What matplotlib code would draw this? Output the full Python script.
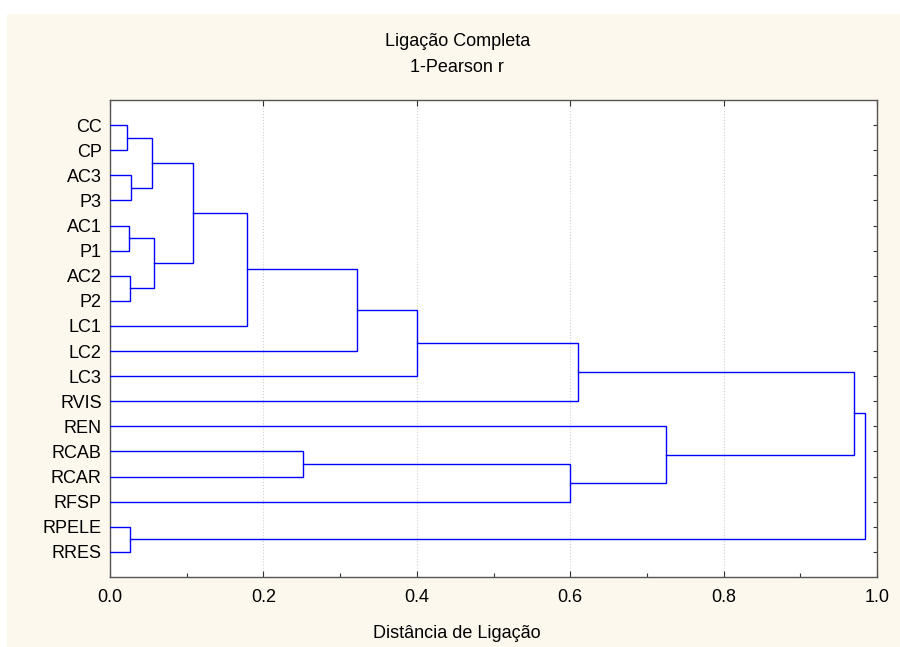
import matplotlib
matplotlib.use("Agg")
import matplotlib.pyplot as plt
from matplotlib.patches import Rectangle
from matplotlib.ticker import MultipleLocator

plt.rcParams['font.family'] = ['Liberation Sans', 'DejaVu Sans']

# leaves, top to bottom
leaves = ['CC', 'CP', 'AC3', 'P3', 'AC1', 'P1', 'AC2', 'P2', 'LC1', 'LC2',
          'LC3', 'RVIS', 'REN', 'RCAB', 'RCAR', 'RFSP', 'RPELE', 'RRES']

# merges: (left id, right id, linkage distance); new clusters get ids 18, 19, ...
merge_a = [0, 4, 16, 6, 2, 18, 19, 23, 25, 13, 26, 28, 27, 29, 12, 31, 33]
merge_b = [1, 5, 17, 7, 3, 22, 21, 24, 8, 14, 9, 10, 15, 11, 30, 32, 20]
merge_h = [0.022, 0.025, 0.026, 0.026, 0.028, 0.055, 0.058, 0.108, 0.178,
           0.252, 0.322, 0.400, 0.600, 0.610, 0.725, 0.970, 0.985]

fig = plt.figure(figsize=(9, 6.47), dpi=100, facecolor='white')
fig.patches.append(Rectangle((7 / 900, 0), 1, 1 - 14 / 647, transform=fig.transFigure,
                             facecolor='#fdf8ee', edgecolor='none', zorder=-10))

ax = fig.add_axes([110 / 900, 1 - 577 / 647, 767 / 900, 477 / 647])
ax.set_facecolor('white')

# position and height of each node
pos = {i: i + 1 for i in range(len(leaves))}
hgt = {i: 0.0 for i in range(len(leaves))}
for k, (a, b, h) in enumerate(zip(merge_a, merge_b, merge_h)):
    nid = len(leaves) + k
    ya, yb = pos[a], pos[b]
    ax.plot([hgt[a], h, h, hgt[b]], [ya, ya, yb, yb], color='#0000ff', lw=1.0,
            solid_joinstyle='miter', zorder=3)
    pos[nid] = (ya + yb) / 2
    hgt[nid] = h

ax.set_xlim(0, 1.0)
ax.set_ylim(len(leaves) + 1, 0)
ax.xaxis.set_major_locator(MultipleLocator(0.2))
ax.xaxis.set_minor_locator(MultipleLocator(0.1))
ax.set_xticklabels([f'{v:.1f}' for v in ax.get_xticks()])
ax.set_yticks(range(1, len(leaves) + 1))
ax.set_yticklabels(leaves, fontsize=13)
ax.tick_params(axis='x', which='major', direction='in', length=4, width=0.8,
               top=True, labelsize=13, pad=9, color='#333333')
ax.tick_params(axis='x', which='minor', direction='in', length=3, width=0.8,
               top=False, color='#333333')
ax.tick_params(axis='y', direction='in', length=3, width=0.8, left=False,
               right=True, pad=6, color='#333333')
ax.grid(axis='x', which='major', color='#d0d0d0', linestyle=':', lw=0.8, zorder=0)
for s in ax.spines.values():
    s.set_color('#555555')
    s.set_linewidth(1.0)

fig.text(0.508, 1 - 41 / 647, 'Ligação Completa', ha='center', va='center', fontsize=13)
fig.text(0.508, 1 - 68 / 647, '1-Pearson r', ha='center', va='center', fontsize=13)
fig.text(0.508, 1 - 633 / 647, 'Distância de Ligação', ha='center', va='center', fontsize=13)

fig.savefig('out.png', dpi=100, facecolor=fig.get_facecolor())
